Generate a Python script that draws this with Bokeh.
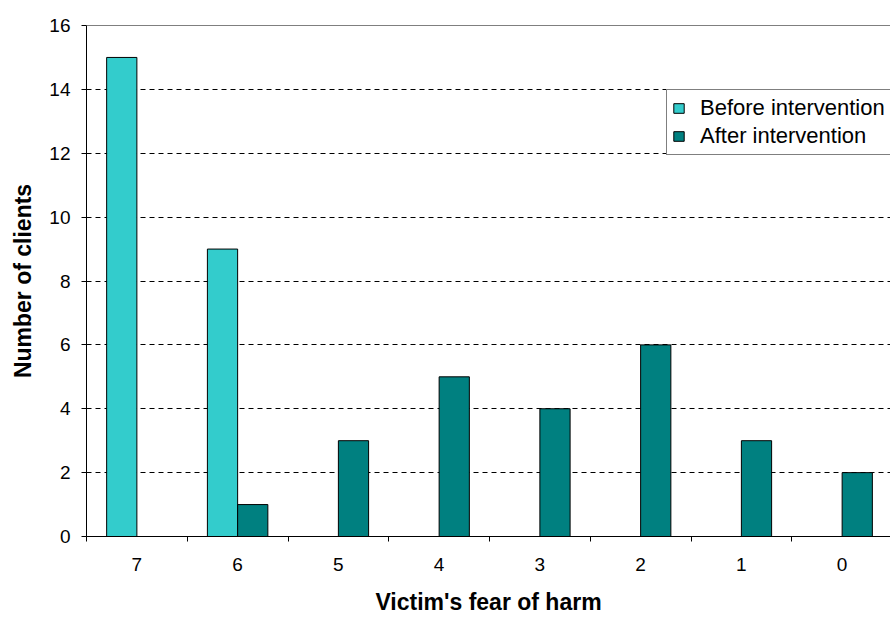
from bokeh.plotting import figure
from bokeh.models import ColumnDataSource, FixedTicker, Range1d, Span, Legend, LegendItem
from bokeh.embed import file_html
from bokeh.resources import INLINE

categories = ["7", "6", "5", "4", "3", "2", "1", "0"]
before = [15, 9, 0, 0, 0, 0, 0, 0]
after = [0, 1, 3, 5, 4, 6, 3, 2]
y_ticks = [0, 2, 4, 6, 8, 10, 12, 14, 16]

centers = [i + 0.5 for i in range(len(categories))]
bw = 0.3
src_b = ColumnDataSource(dict(x=[c - bw / 2 for c in centers], top=before))
src_a = ColumnDataSource(dict(x=[c + bw / 2 for c in centers], top=after))

p = figure(width=890, height=617, output_backend="svg", toolbar_location=None,
           x_range=Range1d(0, 7.98), y_range=Range1d(0, 16),
           min_border_left=86, min_border_right=0, min_border_top=25, min_border_bottom=80)
p.outline_line_color = None
p.background_fill_color = "white"
p.border_fill_color = "white"

rb = p.vbar(x="x", top="top", width=bw, source=src_b, fill_color="#33CCCC", line_color="black", line_width=1)
ra = p.vbar(x="x", top="top", width=bw, source=src_a, fill_color="#008080", line_color="black", line_width=1)

font = "Liberation Sans"

# x axis
p.xaxis.ticker = FixedTicker(ticks=centers, minor_ticks=list(range(len(categories) + 1)))
p.xaxis.major_label_overrides = {c: lab for c, lab in zip(centers, categories)}
p.xaxis.major_tick_out = 0
p.xaxis.major_tick_in = 0
p.xaxis.minor_tick_out = 5
p.xaxis.minor_tick_in = 0
p.xaxis.minor_tick_line_color = "black"
p.xaxis.axis_line_color = "black"
p.xaxis.major_label_text_font = font
p.xaxis.major_label_text_font_size = "19px"
p.xaxis.major_label_text_color = "black"
p.xaxis.major_label_standoff = 16
p.xaxis.axis_label = "Victim's fear of harm"
p.xaxis.axis_label_text_font = font
p.xaxis.axis_label_text_font_style = "bold"
p.xaxis.axis_label_text_font_size = "23px"
p.xaxis.axis_label_text_color = "black"
p.xaxis.axis_label_standoff = 15

# y axis
p.yaxis.ticker = FixedTicker(ticks=y_ticks, minor_ticks=[])
p.yaxis.major_tick_out = 5
p.yaxis.major_tick_in = 0
p.yaxis.major_tick_line_color = "black"
p.yaxis.axis_line_color = "black"
p.yaxis.major_label_text_font = font
p.yaxis.major_label_text_font_size = "19px"
p.yaxis.major_label_text_color = "black"
p.yaxis.major_label_standoff = 11
p.yaxis.axis_label = "Number of clients"
p.yaxis.axis_label_text_font = font
p.yaxis.axis_label_text_font_style = "bold"
p.yaxis.axis_label_text_font_size = "23px"
p.yaxis.axis_label_text_color = "black"
p.yaxis.axis_label_standoff = 10

p.xgrid.grid_line_color = None
p.ygrid.ticker = FixedTicker(ticks=y_ticks[1:-1])
p.ygrid.grid_line_color = "black"
p.ygrid.grid_line_dash = "5 4"
p.ygrid.grid_line_width = 1

p.add_layout(Span(location=16, dimension="width", line_color="black", line_width=1))

legend = Legend(items=[LegendItem(label="Before intervention", renderers=[rb]),
                       LegendItem(label="After intervention", renderers=[ra])],
                location=(580, 381))
legend.label_text_font = font
legend.label_text_font_size = "22px"
legend.label_text_color = "black"
legend.glyph_width = 13
legend.glyph_height = 12
legend.label_standoff = 15
legend.spacing = 2
legend.padding = 5
legend.margin = 0
legend.label_height = 21
legend.border_line_color = "black"
legend.border_line_width = 1
legend.background_fill_color = "white"
legend.background_fill_alpha = 1
p.add_layout(legend)

open("out.html", "w").write(file_html(p, INLINE))
